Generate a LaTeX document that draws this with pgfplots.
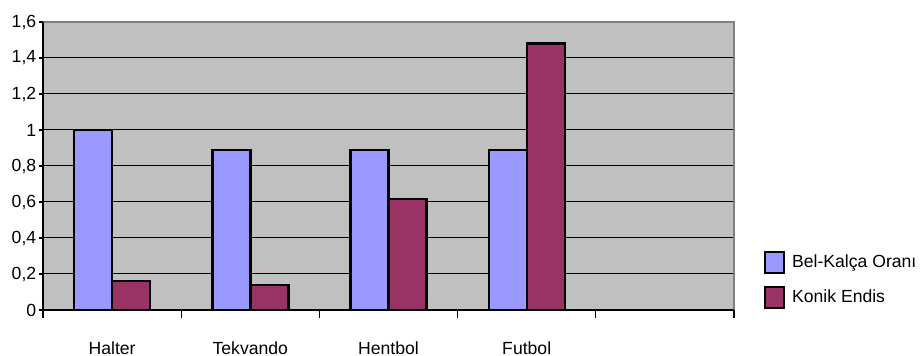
\documentclass[border=0pt]{standalone}
\usepackage{pgfplots}
\pgfplotsset{compat=1.18}
\usepackage{fontspec}
\setmainfont{Liberation Sans}
\definecolor{barblue}{HTML}{9999FF}
\definecolor{barred}{HTML}{993366}
\definecolor{plotbg}{HTML}{C0C0C0}
\definecolor{framegray}{HTML}{808080}
\begin{document}
\begin{tikzpicture}[font=\fontsize{8.8}{10.5}\selectfont]
\begin{axis}[
  scale only axis,
  width=345.5pt, height=144pt,
  xmin=-0.5, xmax=4.5,
  ymin=0, ymax=1.6,
  ybar=0pt, bar width=19pt,
  axis background/.style={fill=plotbg},
  axis line style={draw=none},
  xtick={0,1,2,3},
  xticklabels={Halter,Tekvando,Hentbol,Futbol},
  minor xtick={-0.5,0.5,1.5,2.5,3.5,4.5},
  major x tick style={draw=none},
  minor x tick style={black, line width=0.6pt},
  minor tick length=4pt,
  xticklabel style={anchor=base, yshift=-20.5pt},
  ytick={0,0.2,...,1.6},
  yticklabels={0,{0,2},{0,4},{0,6},{0,8},1,{1,2},{1,4},{1,6}},
  major y tick style={black, line width=0.6pt},
  major tick length=2pt,
  tick align=outside,
  tick pos=left,
  ymajorgrids,
  major grid style={black, line width=0.5pt},
  yticklabel style={inner sep=0pt, xshift=-1.2pt},
  legend style={at={(axis description cs:1.043,0.104)}, anchor=west, draw=none, fill=none, inner sep=0pt, row sep=6pt, nodes={inner sep=0pt}, column sep=3.5pt},
  legend cell align=left,
  legend image code/.code={\draw[#1, line width=1pt] (0pt,-5.25pt) rectangle (9.5pt,5.25pt);},
  clip=false,
]
\addplot[fill=barblue, draw=black, line width=1.2pt] coordinates {(0,1.0) (1,0.89) (2,0.89) (3,0.89)};
\addlegendentry{Bel-Kalça Oranı}
\addplot[fill=barred, draw=black, line width=1.2pt] coordinates {(0,0.16) (1,0.14) (2,0.615) (3,1.48)};
\addlegendentry{Konik Endis}
\draw[framegray, line width=1.1pt] (rel axis cs:0,1) -- (rel axis cs:1,1) -- (rel axis cs:1,0);
\draw[black, line width=0.6pt] (rel axis cs:0,1) -- (rel axis cs:0,0) -- (rel axis cs:1,0);
\end{axis}
\pgfresetboundingbox
\path[use as bounding box] ([shift={(-21.5pt,-23pt)}]current axis.south west) rectangle ([shift={(94.5pt,11pt)}]current axis.north east);
\end{tikzpicture}
\end{document}
